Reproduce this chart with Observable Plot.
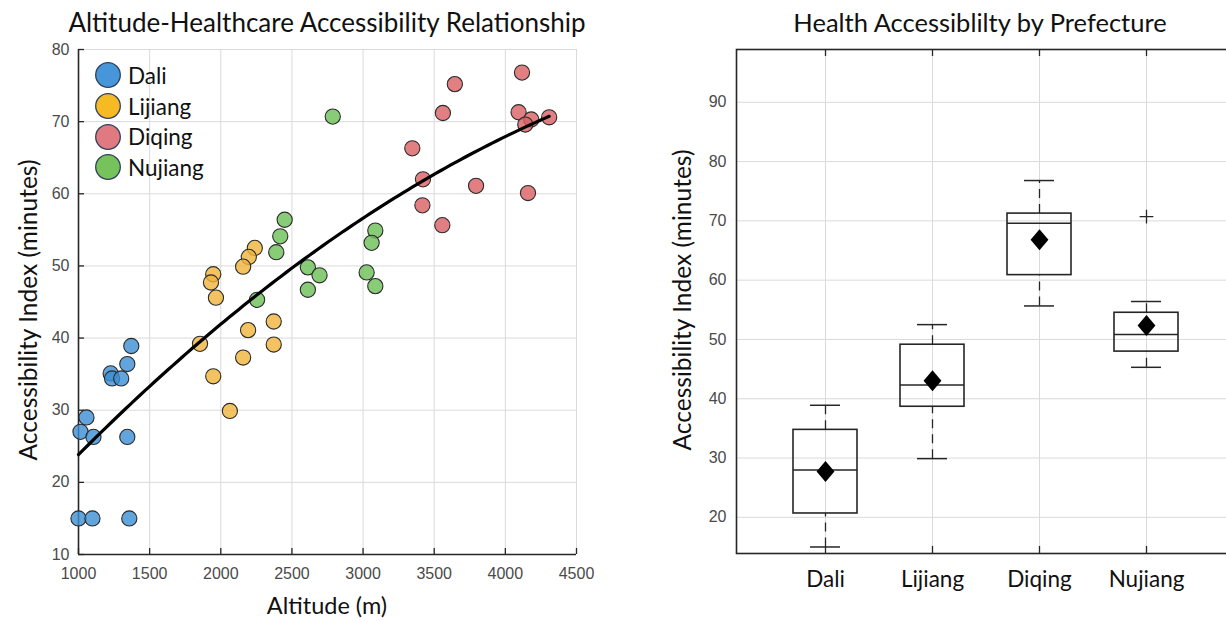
<!DOCTYPE html>
<html><head><meta charset="utf-8">
<script src="https://cdn.jsdelivr.net/npm/d3@7"></script>
<script src="https://cdn.jsdelivr.net/npm/@observablehq/plot@0.6"></script>
<style>
html,body{margin:0;padding:0;background:#fff;overflow:hidden;}
#root{position:relative;width:1226px;height:622px;overflow:hidden;}
#root svg{position:absolute;top:0;}
.t{position:absolute;font-family:Lato,"Noto Sans",sans-serif;color:#111;white-space:nowrap;transform:translate(-50%,-50%);}
.leg{position:absolute;left:94px;top:60px;font-family:Lato,"Noto Sans",sans-serif;font-size:22.5px;color:#111;}
.leg .row{display:flex;align-items:center;height:30.7px;}
.leg svg{position:static !important;margin-right:6px;}
</style></head><body><div id="root"></div>
<script>
// ---- data ----
const prefectures = ["Dali", "Lijiang", "Diqing", "Nujiang"];
const daliAlt = [1000, 1098, 1357, 1014, 1056, 1105, 1343, 1226, 1236, 1300, 1343, 1371];
const daliIdx = [15, 15, 15, 27, 29, 26.3, 26.3, 35.1, 34.4, 34.4, 36.4, 38.9];
const lijiangAlt = [2239, 2197, 2157, 1947, 1931, 1966, 1854, 2192, 2372, 2372, 2157, 1947, 2064];
const lijiangIdx = [52.5, 51.25, 49.9, 48.85, 47.7, 45.6, 39.2, 41.1, 42.3, 39.1, 37.3, 34.7, 29.9];
const diqingAlt = [4117, 3645, 3561, 4093, 4182, 4140, 4308, 3346, 3421, 3794, 4159, 3417, 3557];
const diqingIdx = [76.8, 75.2, 71.2, 71.3, 70.3, 69.6, 70.6, 66.3, 62.0, 61.1, 60.1, 58.4, 55.65];
const nujiangAlt = [2787, 2449, 2418, 2390, 2612, 2694, 2612, 2255, 3086, 3060, 3025, 3086];
const nujiangIdx = [70.7, 56.4, 54.1, 51.9, 49.8, 48.7, 46.7, 45.3, 54.9, 53.2, 49.1, 47.2];
const xTicksL = [1000, 1500, 2000, 2500, 3000, 3500, 4000, 4500];
const yTicksL = [10, 20, 30, 40, 50, 60, 70, 80];
const yTicksR = [20, 30, 40, 50, 60, 70, 80, 90];
const baseColors = ["#3b8fd5", "#f0b43a", "#da5f63", "#6cbf55"];
const legendColors = ["#4696d9", "#f6bb22", "#e07a80", "#77c35b"];

const altBy = [daliAlt, lijiangAlt, diqingAlt, nujiangAlt];
const idxBy = [daliIdx, lijiangIdx, diqingIdx, nujiangIdx];
const points = [];
prefectures.forEach((p, k) => altBy[k].forEach((a, i) => points.push({pref: p, alt: a, idx: idxBy[k][i]})));

// quadratic least-squares trend
function quadFit(pts) {
  const S = [[0,0,0],[0,0,0],[0,0,0]], B = [0,0,0];
  for (const d of pts) {
    const t = (d.alt - 1000) / 1000, v = [1, t, t * t];
    for (let i = 0; i < 3; i++) { B[i] += v[i] * d.idx; for (let j = 0; j < 3; j++) S[i][j] += v[i] * v[j]; }
  }
  const det = m => m[0][0]*(m[1][1]*m[2][2]-m[1][2]*m[2][1]) - m[0][1]*(m[1][0]*m[2][2]-m[1][2]*m[2][0]) + m[0][2]*(m[1][0]*m[2][1]-m[1][1]*m[2][0]);
  const D = det(S);
  return [0,1,2].map(c => det(S.map((r, i) => r.map((x, j) => j === c ? B[i] : x))) / D);
}
const coef = quadFit(points);
const [xmin, xmax] = d3.extent(points, d => d.alt);
const fit = d3.range(0, 101).map(i => {
  const x = xmin + (xmax - xmin) * i / 100, t = (x - 1000) / 1000;
  return {alt: x, idx: coef[0] + coef[1] * t + coef[2] * t * t};
});

// box statistics (MATLAB-style percentiles)
function prctile(s, p) {
  const n = s.length, pos = p * n + 0.5;
  if (pos <= 1) return s[0];
  if (pos >= n) return s[n - 1];
  const i = Math.floor(pos), f = pos - i;
  return s[i - 1] + f * (s[i] - s[i - 1]);
}
const stats = [], outliers = [];
prefectures.forEach((p, k) => {
  const s = idxBy[k].slice().sort((a, b) => a - b);
  const q1 = prctile(s, 0.25), q3 = prctile(s, 0.75), med = prctile(s, 0.5), iqr = q3 - q1;
  const inside = s.filter(v => v >= q1 - 1.5 * iqr && v <= q3 + 1.5 * iqr);
  s.filter(v => v < q1 - 1.5 * iqr || v > q3 + 1.5 * iqr).forEach(v => outliers.push({name: p, value: v}));
  stats.push({name: p, q1, q3, median: med, lo: d3.min(inside), hi: d3.max(inside), mean: d3.mean(s)});
});

const root = document.getElementById("root");
const axisStyle = {fontFamily: "'Liberation Sans', Arial, sans-serif", fontSize: "16px", color: "#4a4a4a", background: "transparent", overflow: "visible"};
const dark = "#262626", grid = "#dadada";
const fmt = d => String(d);

// ---- left scatter ----
const LW = 610, LH = 622, lML = 78, lMR = 34, lMT = 49, lMB = 68;
const lfw = LW - lML - lMR, lfh = LH - lMT - lMB;
const left = Plot.plot({
  width: LW, height: LH, marginLeft: lML, marginRight: lMR, marginTop: lMT, marginBottom: lMB,
  style: axisStyle,
  x: {domain: [1000, 4500], label: null},
  y: {domain: [10, 80], label: null},
  color: {domain: prefectures, range: baseColors},
  marks: [
    Plot.gridX(xTicksL, {stroke: grid, strokeOpacity: 1}),
    Plot.gridY(yTicksL, {stroke: grid, strokeOpacity: 1}),
    Plot.ruleX([1000], {stroke: dark, strokeWidth: 1.6}),
    Plot.ruleY([10], {stroke: dark, strokeWidth: 1.6}),
    Plot.ruleX(xTicksL, {insetTop: lfh - 6, stroke: dark, strokeWidth: 1.3}),
    Plot.ruleY(yTicksL, {insetRight: lfw - 6, stroke: dark, strokeWidth: 1.3}),
    Plot.axisX(xTicksL, {tickSize: 0, tickPadding: 13, fill: "#4a4a4a", fontSize: 16, tickFormat: fmt, label: null}),
    Plot.axisY(yTicksL, {tickSize: 0, tickPadding: 9, fill: "#4a4a4a", fontSize: 16, tickFormat: fmt, label: null}),
    Plot.dot(points, {x: "alt", y: "idx", fill: "pref", fillOpacity: 0.8, r: 7.6, stroke: "#2a2a2a", strokeWidth: 1.1}),
    Plot.line(fit, {x: "alt", y: "idx", stroke: "#000", strokeWidth: 3.2})
  ]
});
left.style.left = "0px";
root.appendChild(left);

// ---- right boxplot ----
const RW = 625, RH = 622, rML = 121, rMR = 5, rMT = 49, rMB = 69;
const rfw = RW - rML - rMR, rfh = RH - rMT - rMB;
const diamond = {draw(ctx, size) { const h = Math.sqrt(size / Math.PI), w = h * 0.85; ctx.moveTo(0, -h); ctx.lineTo(w, 0); ctx.lineTo(0, h); ctx.lineTo(-w, 0); ctx.closePath(); }};
const right = Plot.plot({
  width: RW, height: RH, marginLeft: rML, marginRight: rMR, marginTop: rMT, marginBottom: rMB,
  style: axisStyle,
  x: {type: "band", domain: prefectures, paddingInner: 0.404, paddingOuter: 0.527, label: null},
  y: {domain: [13.9, 98.9], label: null},
  marks: [
    Plot.gridY(yTicksR, {stroke: grid, strokeOpacity: 1}),
    Plot.gridX(prefectures, {stroke: grid, strokeOpacity: 1}),
    Plot.frame({stroke: dark, strokeWidth: 1.6}),
    Plot.ruleX(prefectures, {x: d => d, insetTop: rfh - 7, stroke: dark, strokeWidth: 1.3}),
    Plot.ruleX(prefectures, {x: d => d, insetBottom: rfh - 7, stroke: dark, strokeWidth: 1.3}),
    Plot.ruleY(yTicksR, {insetLeft: rfw - 8, stroke: dark, strokeWidth: 1.3}),
    Plot.ruleX(stats, {x: "name", y1: "q3", y2: "hi", stroke: dark, strokeWidth: 1.3, strokeDasharray: "9,6"}),
    Plot.ruleX(stats, {x: "name", y1: "lo", y2: "q1", stroke: dark, strokeWidth: 1.3, strokeDasharray: "9,6"}),
    Plot.tickY(stats, {x: "name", y: "hi", insetLeft: 17, insetRight: 17, stroke: dark, strokeWidth: 1.5}),
    Plot.tickY(stats, {x: "name", y: "lo", insetLeft: 17, insetRight: 17, stroke: dark, strokeWidth: 1.5}),
    Plot.barY(stats, {x: "name", y1: "q1", y2: "q3", fill: "none", stroke: dark, strokeWidth: 1.6}),
    Plot.tickY(stats, {x: "name", y: "median", stroke: dark, strokeWidth: 1.5}),
    Plot.dot(stats, {x: "name", y: "mean", symbol: diamond, r: 10.5, fill: "#000", stroke: "none"}),
    Plot.dot(outliers, {x: "name", y: "value", symbol: "plus", r: 4.5, stroke: dark, strokeWidth: 1.3}),
    Plot.axisY(yTicksR, {tickSize: 0, tickPadding: 10, fill: "#4a4a4a", fontSize: 16, tickFormat: fmt, label: null}),
    Plot.axisX({tickSize: 0, tickPadding: 18, fill: "#111", fontSize: 22.5, fontFamily: "Lato, 'Noto Sans', sans-serif", label: null})
  ]
});
right.style.left = "615px";
root.appendChild(right);

// ---- texts ----
function addText(txt, x, y, size, rot) {
  const d = document.createElement("div");
  d.className = "t"; d.textContent = txt;
  d.style.left = x + "px"; d.style.top = y + "px"; d.style.fontSize = size + "px";
  if (rot) d.style.transform = "translate(-50%,-50%) rotate(-90deg)";
  root.appendChild(d);
}
addText("Altitude-Healthcare Accessibility Relationship", 327, 22, 26);
addText("Health Accessiblilty by Prefecture", 980, 22, 25.5);
addText("Accessibility Index (minutes)", 27, 310, 24.5, true);
addText("Altitude (m)", 327, 605, 23.5);
addText("Accessibility Index (minutes)", 681, 300, 24.5, true);

// ---- legend ----
const leg = document.createElement("div");
leg.className = "leg";
prefectures.forEach((p, k) => {
  const row = document.createElement("div"); row.className = "row";
  row.innerHTML = `<svg width="28" height="28"><circle cx="14" cy="14" r="12.3" fill="${legendColors[k]}" stroke="#2f3f5f" stroke-width="1.3"/></svg><span>${p}</span>`;
  leg.appendChild(row);
});
root.appendChild(leg);
</script></body></html>
